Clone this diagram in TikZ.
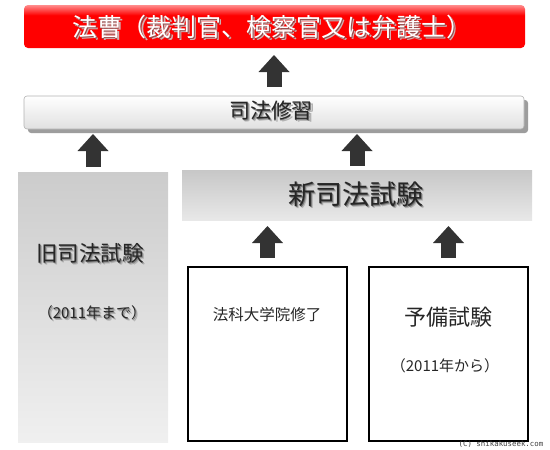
\documentclass[tikz,border=0pt]{standalone}
\usepackage{fontspec}
\setmainfont{Noto Sans CJK JP}
\newfontfamily\copyfont{DejaVu Sans Mono}
\usetikzlibrary{arrows.meta,shadows}
\definecolor{arrowc}{HTML}{333333}
\definecolor{txtc}{HTML}{262626}
\pgfdeclareverticalshading{redgloss}{100bp}{color(0bp)=(red); color(25bp)=(red); color(63bp)=(red); color(75bp)=(red!45!white); color(100bp)=(red!45!white)}
\newcommand\glowtext[3]{% #1 shadow colour, #2 strength, #3 text
  \leavevmode\rlap{\kern2pt\raisebox{-2pt}{\textcolor{#1!30}{#3}}}%
  \rlap{\kern1pt\raisebox{-1pt}{\textcolor{#1!#2}{#3}}}#3}
\tikzset{
  box/.style={inner sep=0pt, outer sep=0pt, anchor=north west},
  bigarrow/.style={draw=arrowc, line width=15pt,
    -{Triangle[length=17pt, width=31pt, line width=0pt, fill=arrowc]}},
  whitebox/.style={box, draw=black, line width=1.2pt},
  label/.style={text=txtc, inner sep=1pt},
}
\begin{document}
\begin{tikzpicture}[x=1pt, y=-1pt]
\useasboundingbox (0,0) rectangle (550,450);
% top red box
\node[box, minimum width=501pt, minimum height=43pt, rounded corners=4pt,
      shade, shading=redgloss] (hoso) at (24,5) {};
\node[label, text=white, font=\fontsize{25}{28}\selectfont] (hosot) at (272,28)
  {\glowtext{black!60!red}{70}{法曹（裁判官、検察官又は弁護士）}};
% shihou shuushuu
\node[box, minimum width=500pt, minimum height=33pt, rounded corners=3pt,
      draw=black!30, line width=0.6pt, top color=white, bottom color=black!12,
      drop shadow={shadow xshift=4pt, shadow yshift=-4pt, opacity=0.55, fill=black!70}] (sishu) at (24,96) {};
\node[label, font=\fontsize{21}{24}\selectfont] (sishut) at (271,112)
  {\glowtext{black}{50}{司法修習}};
% old exam
\node[box, minimum width=150pt, minimum height=270pt,
      top color=black!20, bottom color=black!6] (kyu) at (18,172) {};
\node[label, font=\fontsize{21.5}{24}\selectfont] (kyut) at (90,254)
  {\glowtext{black}{50}{旧司法試験}};
\node[label, font=\fontsize{15}{17}\selectfont] (kyud) at (92,314)
  {\glowtext{black}{45}{（2011年まで）}};
% new exam
\node[box, minimum width=350pt, minimum height=50pt,
      top color=black!22, bottom color=black!9] (shin) at (182,170) {};
\node[label, font=\fontsize{27}{30}\selectfont] (shint) at (356,195)
  {\glowtext{black}{55}{新司法試験}};
% law school
\node[whitebox, minimum width=159pt, minimum height=174pt] (houka) at (188,267) {};
\node[label, font=\fontsize{15.5}{18}\selectfont] (houkat) at (267,315) {法科大学院修了};
% preliminary exam
\node[whitebox, minimum width=159pt, minimum height=174pt] (yobi) at (369,267) {};
\node[label, font=\fontsize{22}{25}\selectfont] (yobit) at (448,317) {予備試験};
\node[label, font=\fontsize{15}{17}\selectfont] (yobid) at (445,366) {（2011年から）};
% copyright
\node[text=black!75, font=\copyfont\fontsize{7.4}{8}\selectfont, inner sep=0pt] (copy) at (501,444) {(C) shikakuseek.com};
% arrows
\draw[bigarrow, shorten <=9pt, shorten >=7pt] (sishu.north) -- (sishu.north |- hoso.south);
\draw[bigarrow, shorten <=5pt, shorten >=5pt] (kyu.north) -- (kyu.north |- sishu.south);
\draw[bigarrow, shorten <=4pt, shorten >=5pt] (shin.north) -- (shin.north |- sishu.south);
\draw[bigarrow, shorten <=9pt, shorten >=6pt] (houka.north) -- (houka.north |- shin.south);
\draw[bigarrow, shorten <=9pt, shorten >=6pt] (yobi.north) -- (yobi.north |- shin.south);
\end{tikzpicture}
\end{document}
